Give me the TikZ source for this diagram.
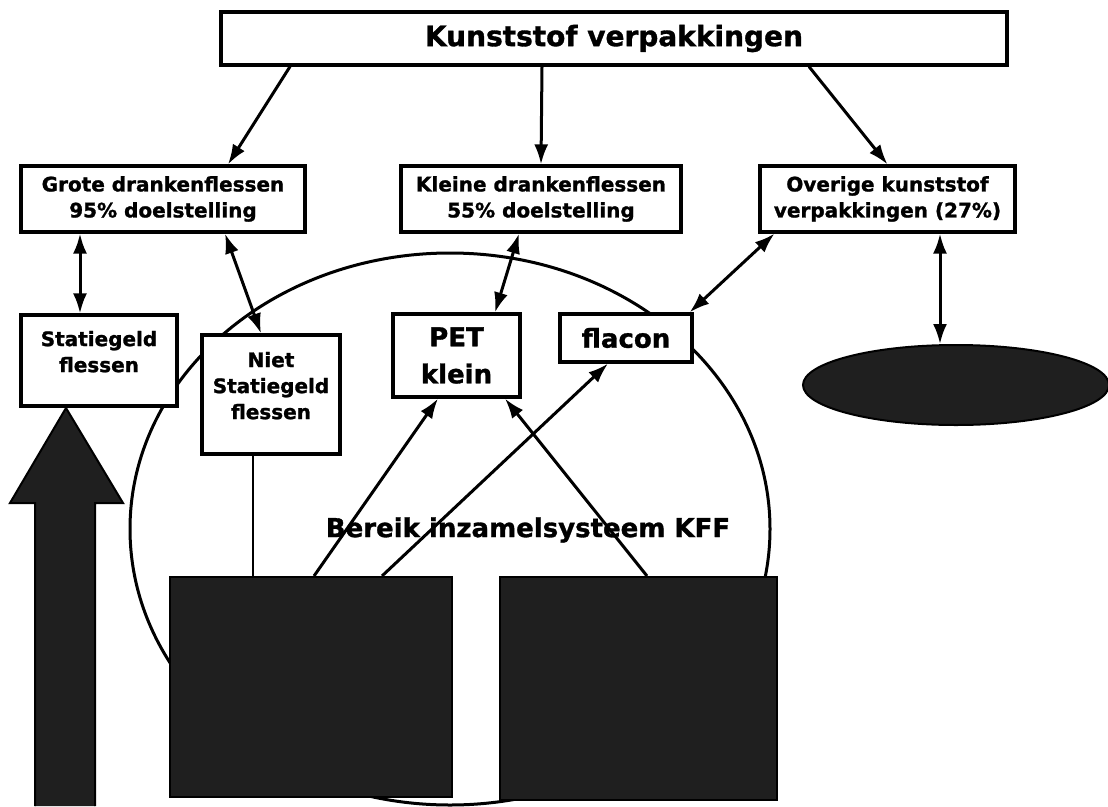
\documentclass[tikz,border=0pt]{standalone}
\usepackage{fontspec}
\setmainfont{DejaVu Sans}[BoldFeatures={FakeBold=1.2}]
\usetikzlibrary{calc,arrows.meta,shapes.geometric}
\tikzset{
  box/.style={draw, line width=3.2pt, fill=white, inner sep=0pt, align=center,
    font=\bfseries\fontsize{20}{26}\selectfont},
  bigbox/.style={box, font=\bfseries\fontsize{26}{37}\selectfont},
  darkbox/.style={draw, line width=2pt, fill=black!88, inner sep=0pt},
  link/.style={line width=3pt, -{Latex[length=20pt,width=14pt]}},
  twoway/.style={line width=3pt, {Latex[length=20pt,width=14pt]}-{Latex[length=20pt,width=14pt]}},
}

\begin{document}
\begin{tikzpicture}[x=1pt, y=-1pt]
			%%%%% START %%%%%
			\useasboundingbox (0, 0) rectangle (1108, 806);
			
			% reach of the collection system
			\draw[line width=3pt] (450, 529) ellipse (320 and 276);
			
			\node[box, minimum width=786pt, minimum height=53pt, font=\bfseries\fontsize{28}{32}\selectfont] (top) at (614, 38.5) {Kunststof verpakkingen};
			
			\node[box, minimum width=284pt, minimum height=66pt] (grote) at (163, 199) {Grote drankenflessen\\95\% doelstelling};
			\node[box, minimum width=280pt, minimum height=66pt] (kleine) at (541, 199) {Kleine drankenflessen\\55\% doelstelling};
			\node[box, minimum width=255pt, minimum height=66pt] (overige) at (887.5, 199) {Overige kunststof\\verpakkingen (27\%)};
			
			\node[box, minimum width=156pt, minimum height=91pt] (statie) at (99, 360.5) {Statiegeld\\flessen\\[-8pt]\mbox{}};
			\node[box, minimum width=138pt, minimum height=119pt] (niet) at (271, 394.5) {Niet\\Statiegeld\\flessen\\[-8pt]\mbox{}};
			\node[bigbox, minimum width=127pt, minimum height=83pt] (pet) at (456.5, 355.5) {PET\\klein};
			\node[bigbox, minimum width=132pt, minimum height=48pt] (flacon) at (626, 338) {flacon};
			
			\node[darkbox, ellipse, minimum width=306pt, minimum height=80pt] (rest) at (956, 385) {};
			
			\node[darkbox, minimum width=282pt, minimum height=220pt] (kff1) at (311, 687) {};
			\node[darkbox, minimum width=277pt, minimum height=223pt] (kff2) at (638.5, 688.5) {};
			
			\node[font=\bfseries\fontsize{26}{30}\selectfont] (bereik) at (528, 530) {Bereik inzamelsysteem KFF};
			
			% big arrow on the left
			\draw[line width=2pt, fill=black!88] (35, 806) -- (35, 503) -- (10, 503) -- (66, 408) -- (123, 503) -- (95, 503) -- (95, 806);
			
			\draw[link] ([xshift=-324pt]top.south) -- ([xshift=65pt]grote.north);
			\draw[link] ([xshift=-72pt]top.south) -- (kleine.north);
			\draw[link] ([xshift=195pt]top.south) -- (overige.north);
			
			\draw[twoway] ([xshift=-83pt]grote.south) -- ([xshift=-19pt]statie.north);
			\draw[twoway] ([xshift=62pt]grote.south) -- ([xshift=-10pt]niet.north);
			\draw[twoway] ([xshift=-22pt]kleine.south) -- ([xshift=38.5pt]pet.north);
			\draw[twoway] ([xshift=-113pt]overige.south) -- ([xshift=-4pt]flacon.north east);
			\draw[twoway] ([xshift=52.5pt]overige.south) -- ([xshift=-16pt]rest.north);
			
			\draw[line width=2pt] ([xshift=-18pt]niet.south) -- ([xshift=-58pt]kff1.north);
			\draw[link] ([xshift=3pt]kff1.north) -- ([xshift=-18.5pt]pet.south);
			\draw[link] ([xshift=71pt]kff1.north) -- ([xshift=-18pt]flacon.south);
			\draw[link] ([xshift=8.5pt]kff2.north) -- ([xshift=48.5pt]pet.south);
			
			%%%%% END %%%%%
\end{tikzpicture}
\end{document}
